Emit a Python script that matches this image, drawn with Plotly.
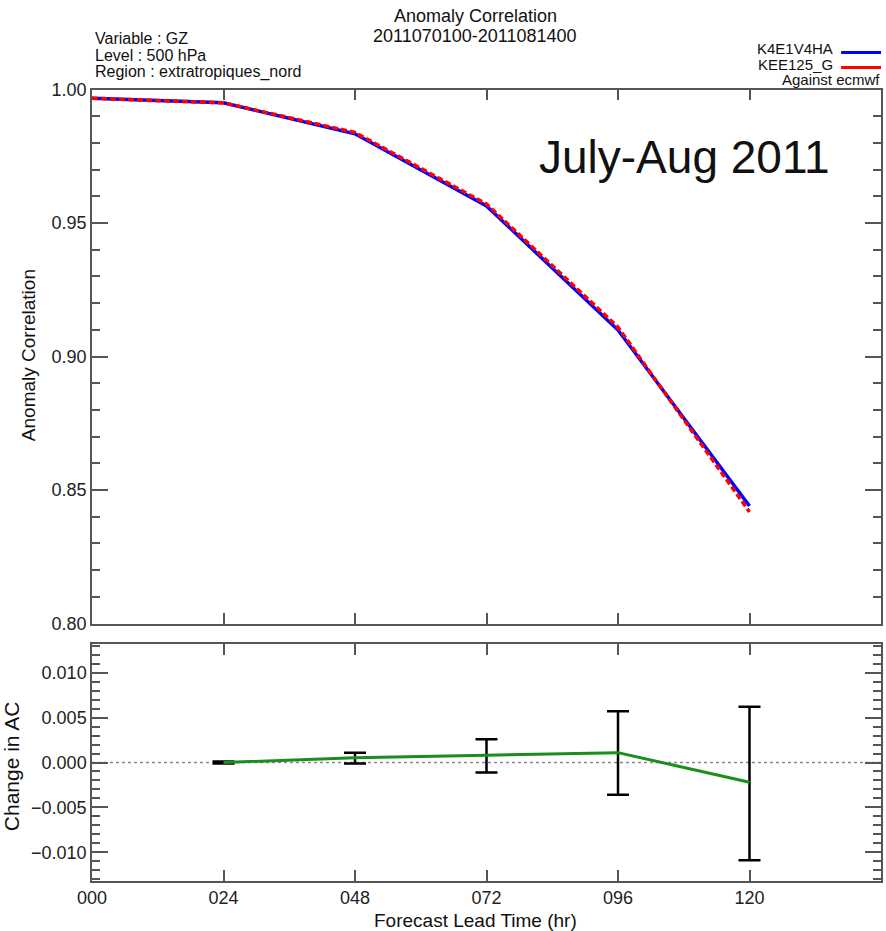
import plotly.graph_objects as go

lead = [0, 24, 48, 72, 96, 120]
k4e1v4ha = [0.9967, 0.9950, 0.9834, 0.9564, 0.9099, 0.8440]
kee125_g = [0.9967, 0.9950, 0.9839, 0.9571, 0.9110, 0.8418]

diff_lead = [24, 48, 72, 96, 120]
diff_ac = [0.0000, 0.00052, 0.00082, 0.0011, -0.0022]
err_hi = [0.0001, 0.0011, 0.0026, 0.0057, 0.0062]
err_lo = [-0.0001, -0.0001, -0.0011, -0.0036, -0.0109]

xtick_vals = [0, 24, 48, 72, 96, 120]
xtick_text = ["000", "024", "048", "072", "096", "120"]

FONT = "Liberation Sans, Arial, sans-serif"
AX = "#555555"

fig = go.Figure()

fig.add_trace(go.Scatter(x=lead, y=k4e1v4ha, mode="lines", name="K4E1V4HA",
                         line=dict(color="#0000ff", width=3.5), xaxis="x", yaxis="y",
                         showlegend=False))
fig.add_trace(go.Scatter(x=lead, y=kee125_g, mode="lines", name="KEE125_G",
                         line=dict(color="#ff0000", width=3.5, dash="6px,3px"), xaxis="x", yaxis="y",
                         showlegend=False))

# zero line in lower panel
fig.add_trace(go.Scatter(x=[0, 144], y=[0, 0], mode="lines",
                         line=dict(color="#888888", width=1.5, dash="dot"),
                         xaxis="x2", yaxis="y2", showlegend=False, hoverinfo="skip"))

err_plus = [h - d for h, d in zip(err_hi, diff_ac)]
err_minus = [d - l for l, d in zip(err_lo, diff_ac)]
fig.add_trace(go.Scatter(x=diff_lead, y=diff_ac, mode="markers",
                         marker=dict(size=1, color="rgba(0,0,0,0)"),
                         error_y=dict(type="data", symmetric=False, array=err_plus,
                                      arrayminus=err_minus, color="black",
                                      thickness=2.5, width=11),
                         xaxis="x2", yaxis="y2", showlegend=False))
fig.add_trace(go.Scatter(x=diff_lead, y=diff_ac, mode="lines",
                         line=dict(color="#1a8f1a", width=3),
                         xaxis="x2", yaxis="y2", showlegend=False))

# legend line samples
fig.add_trace(go.Scatter(x=[0, 1], y=[0, 0], mode="lines", line=dict(color="#0000ff", width=3),
                         xaxis="x3", yaxis="y3", showlegend=False, hoverinfo="skip"))
fig.add_trace(go.Scatter(x=[0, 1], y=[-1, -1], mode="lines", line=dict(color="#ff0000", width=3),
                         xaxis="x3", yaxis="y3", showlegend=False, hoverinfo="skip"))

L, R, T, B = 92, 3, 20, 50
W, H = 886, 931
pw = W - L - R
ph = H - T - B


def px(xp):
    return (xp - L) / pw


def py(yp):
    return (H - B - yp) / ph


common_axis = dict(showline=True, linecolor=AX, linewidth=1.5, mirror="allticks",
                   ticks="inside", tickcolor=AX, tickwidth=1.5, showgrid=False,
                   zeroline=False, tickfont=dict(family=FONT, size=18, color="#222"))

fig.update_layout(
    width=W, height=H,
    margin=dict(l=L, r=R, t=T, b=B),
    paper_bgcolor="white", plot_bgcolor="white",
    font=dict(family=FONT, color="#222"),
    xaxis=dict(range=[0, 144], domain=[0, 1], anchor="y", tickvals=xtick_vals,
               showticklabels=False, ticklen=11, **common_axis),
    yaxis=dict(range=[0.80, 1.00], domain=[py(623.5), py(89.5)], anchor="x",
               tickvals=[0.80, 0.85, 0.90, 0.95, 1.00], tickformat=".2f", ticklen=16,
               minor=dict(dtick=0.01, ticks="inside", ticklen=8, tickcolor=AX, tickwidth=1.5),
               **common_axis),
    xaxis2=dict(range=[0, 144], domain=[0, 1], anchor="y2", tickvals=xtick_vals,
                ticktext=xtick_text, ticklen=11, **common_axis),
    yaxis2=dict(range=[-0.0132, 0.0132], domain=[0, py(644)], anchor="x2",
                tickvals=[-0.010, -0.005, 0.0, 0.005, 0.010], tickformat=".3f", ticklen=16,
                minor=dict(dtick=0.001, ticks="inside", ticklen=8, tickcolor=AX, tickwidth=1.5),
                **common_axis),
    xaxis3=dict(range=[0, 1], domain=[px(843), 1], visible=False, fixedrange=True,
                anchor="y3"),
    yaxis3=dict(range=[-1.5, 0.5], domain=[py(75), py(45)], visible=False, fixedrange=True,
                anchor="x3"),
)

ann = []


def add_text(text, x, y, size=15, xanchor="center", yanchor="middle", angle=0):
    ann.append(dict(text=text, x=px(x), y=py(y), xref="paper", yref="paper",
                    xanchor=xanchor, yanchor=yanchor, showarrow=False, textangle=angle,
                    font=dict(family=FONT, size=size, color="#111")))


add_text("Anomaly Correlation", 476, 16, size=18)
add_text("2011070100-2011081400", 476, 36, size=18)
add_text("Variable : GZ", 93, 38, size=16, xanchor="left")
add_text("Level : 500 hPa", 93, 55, size=16, xanchor="left")
add_text("Region : extratropiques_nord", 93, 72, size=16, xanchor="left")
add_text("K4E1V4HA", 837, 49, xanchor="right")
add_text("KEE125_G", 837, 64, xanchor="right")
add_text("Against ecmwf", 884, 79, xanchor="right")
add_text("July-Aug 2011", 834, 157, size=46, xanchor="right")
add_text("Anomaly Correlation", 28, 355, size=19, angle=-90)
add_text("Change in AC", 11, 766, size=21, angle=-90)
add_text("Forecast Lead Time (hr)", 476, 920, size=19)

fig.update_layout(annotations=ann)

fig.write_html("out.html")
